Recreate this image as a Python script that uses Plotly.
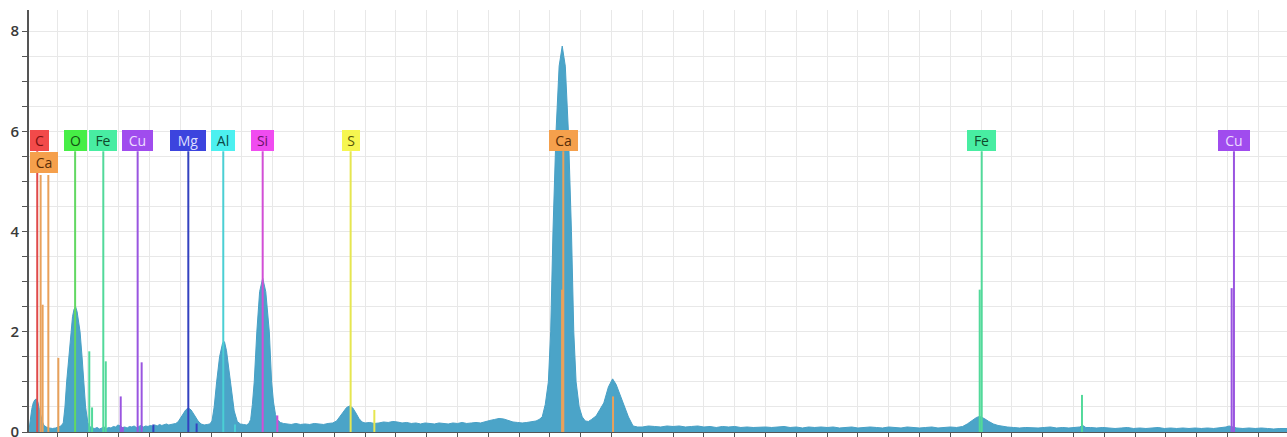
import plotly.graph_objects as go

# ---------------- spectrum data (energy keV, counts) ----------------
kev_a = [0.218,0.225,0.235,0.245,0.255,0.265,0.275,0.285,0.295,0.305,
         0.315,0.330,0.350,0.370,0.390,0.410,0.425,0.440,0.451,0.462,
         0.475,0.488,0.500,0.510,0.520,0.530,0.540,0.549,0.562,0.575,
         0.585,0.600,0.615,0.630,0.645,0.660,0.675,0.690,0.705,0.720]
cps_a = [0.05,0.25,0.45,0.58,0.64,0.66,0.60,0.45,0.30,0.20,
         0.13,0.10,0.08,0.07,0.08,0.10,0.12,0.18,0.50,1.00,
         1.50,2.00,2.30,2.45,2.50,2.40,2.20,2.00,1.50,1.00,
         0.50,0.18,0.10,0.08,0.07,0.09,0.06,0.08,0.10,0.07]

kev_b = [0.735,0.750,0.765,0.780,0.795,0.810,0.825,0.840,0.855,0.870,
         0.885,0.900,0.915,0.930,0.945,0.960,0.975,0.990,1.005,1.020,
         1.035,1.050,1.065,1.080,1.095,1.110,1.125,1.140,1.155,1.170]
cps_b = [0.09,0.08,0.11,0.10,0.14,0.12,0.09,0.10,0.08,0.11,
         0.10,0.12,0.09,0.11,0.13,0.10,0.12,0.11,0.13,0.12,
         0.14,0.12,0.15,0.13,0.14,0.16,0.14,0.15,0.16,0.17]

kev_c = [1.185,1.210,1.235,1.252,1.270,1.295,1.315,1.335,1.355,1.375,
         1.392,1.406,1.420,1.436,1.455,1.475,1.487,1.500,1.517,1.534,
         1.550,1.570,1.590,1.610,1.630,1.645,1.657,1.668,1.680,1.697,
         1.715,1.735,1.755,1.778,1.793,1.805,1.818,1.832,1.850,1.870]
cps_c = [0.20,0.32,0.44,0.48,0.44,0.32,0.22,0.16,0.14,0.15,
         0.16,0.22,0.50,1.00,1.50,1.78,1.80,1.62,1.22,0.78,
         0.42,0.21,0.16,0.15,0.14,0.17,0.25,0.55,1.00,2.00,
         2.80,3.07,2.80,2.00,1.00,0.60,0.35,0.24,0.19,0.17]

kev_d = [1.890,1.920,1.950,1.980,2.010,2.040,2.070,2.100,2.130,2.160,
         2.190,2.215,2.240,2.260,2.280,2.300,2.320,2.340,2.360,2.380,
         2.400,2.430,2.460,2.490,2.520,2.550,2.580,2.610,2.640,2.670,
         2.700,2.730,2.760,2.790,2.820,2.850,2.880,2.910,2.940,2.970,
         3.000,3.030,3.060,3.090,3.120,3.150,3.180,3.210,3.240,3.270,
         3.300,3.330,3.360,3.390,3.420,3.450,3.480,3.510,3.530,3.550]
cps_d = [0.16,0.15,0.17,0.15,0.16,0.15,0.17,0.16,0.15,0.17,
         0.18,0.22,0.32,0.42,0.49,0.52,0.48,0.38,0.27,0.20,
         0.18,0.19,0.17,0.18,0.20,0.19,0.21,0.20,0.18,0.19,
         0.17,0.18,0.16,0.18,0.17,0.16,0.18,0.17,0.16,0.18,
         0.17,0.19,0.17,0.18,0.19,0.18,0.21,0.23,0.25,0.27,
         0.26,0.23,0.20,0.19,0.18,0.19,0.20,0.22,0.25,0.30]

kev_e = [3.570,3.590,3.605,3.620,3.640,3.660,3.680,3.700,3.720,3.740,
         3.755,3.770,3.790,3.810,3.830,3.850,3.870,3.900,3.925,3.950,
         3.980,4.007,4.030,4.060,4.088,4.110,4.140,4.170]
cps_e = [0.55,1.00,2.00,4.00,6.00,7.30,7.70,7.30,6.00,4.00,
         2.00,1.00,0.50,0.30,0.22,0.21,0.25,0.32,0.45,0.58,
         0.90,1.06,0.95,0.70,0.50,0.30,0.12,0.10]

kev_f = [4.20,4.24,4.28,4.32,4.36,4.40,4.44,4.48,4.52,4.56,
         4.60,4.64,4.68,4.72,4.76,4.80,4.84,4.88,4.92,4.96,
         5.00,5.04,5.08,5.12,5.16,5.20,5.24,5.28,5.32,5.36,
         5.40,5.44,5.48,5.52,5.56,5.60,5.64,5.68,5.72,5.76,
         5.80,5.84,5.88,5.92,5.96,6.00,6.04,6.08,6.12,6.16,
         6.20,6.24]
cps_f = [0.10,0.12,0.11,0.10,0.12,0.11,0.12,0.10,0.11,0.12,
         0.10,0.11,0.09,0.11,0.10,0.11,0.09,0.10,0.09,0.10,
         0.10,0.09,0.10,0.11,0.09,0.10,0.08,0.10,0.09,0.10,
         0.09,0.10,0.08,0.09,0.10,0.08,0.09,0.10,0.09,0.08,
         0.10,0.09,0.08,0.10,0.09,0.08,0.09,0.10,0.08,0.09,
         0.10,0.09]

kev_g = [6.28,6.31,6.34,6.37,6.39,6.42,6.45,6.48,6.51,6.54,
         6.57,6.61,6.65,6.69,6.73,6.77,6.81,6.85,6.89,6.93,
         6.97,7.01,7.04,7.06,7.08,7.11,7.15,7.19,7.23,7.27,
         7.31,7.35,7.39,7.43,7.47,7.51,7.55,7.59,7.63,7.67,
         7.71,7.75,7.79,7.83,7.87,7.91,7.95,7.99,8.01,8.03,
         8.06,8.10,8.14,8.18,8.22,8.26,8.30,8.34,8.39]
cps_g = [0.11,0.16,0.23,0.29,0.31,0.27,0.21,0.16,0.13,0.11,
         0.10,0.09,0.08,0.09,0.08,0.08,0.09,0.10,0.08,0.09,
         0.08,0.09,0.10,0.13,0.09,0.09,0.08,0.09,0.08,0.07,
         0.08,0.09,0.07,0.08,0.07,0.08,0.09,0.07,0.08,0.07,
         0.08,0.07,0.08,0.07,0.08,0.07,0.08,0.10,0.12,0.10,
         0.08,0.07,0.08,0.07,0.08,0.07,0.06,0.07,0.07]

spectrum_kev = kev_a + kev_b + kev_c + kev_d + kev_e + kev_f + kev_g
spectrum_cps = cps_a + cps_b + cps_c + cps_d + cps_e + cps_f + cps_g

# ---------------- element marker lines ----------------
line_elem = ["C", "CaL", "CaL", "CaL", "CaL", "O", "FeL", "FeL", "FeL", "FeL",
             "CuL", "CuL", "CuL", "CuL", "Mg", "Mg", "Mg", "Al", "Al", "Si", "Si",
             "S", "S", "Ca", "Ca", "Ca", "Fe", "Fe", "Fe", "Cu", "Cu"]
line_kev = [0.271, 0.293, 0.306, 0.343, 0.408, 0.517, 0.609, 0.627, 0.700, 0.716,
            0.813, 0.826, 0.923, 0.949, 1.025, 1.252, 1.306, 1.479, 1.555, 1.735, 1.830,
            2.306, 2.460, 3.679, 3.687, 4.010, 6.391, 6.404, 7.055, 8.027, 8.042]
line_top = [5.60, 5.13, 2.54, 5.13, 1.48, 5.60, 1.61, 0.49, 5.60, 1.41,
            0.71, 0.10, 5.60, 1.39, 0.15, 5.60, 0.17, 5.60, 0.15, 5.60, 0.33,
            5.60, 0.44, 2.84, 5.60, 0.71, 2.84, 5.60, 0.74, 2.87, 5.60]

# ---------------- element labels ----------------
label_text = ["C", "Ca", "O", "Fe", "Cu", "Mg", "Al", "Si", "S", "Ca", "Fe", "Cu"]
label_group = ["C", "CaL", "O", "FeL", "CuL", "Mg", "Al", "Si", "S", "Ca", "Fe", "Cu"]
label_kev = [0.271, 0.318, 0.517, 0.700, 0.923, 1.252, 1.479, 1.735, 2.306, 3.687, 6.404, 8.042]
label_row = [0, 1, 0, 0, 0, 0, 0, 0, 0, 0, 0, 0]

# ---------------- styles ----------------
line_color = {"C": "#e04a4a", "CaL": "#e9a15a", "Ca": "#e9a15a", "O": "#62d862",
              "FeL": "#52d99a", "Fe": "#52d99a", "CuL": "#9a55e0", "Cu": "#9a55e0",
              "Mg": "#3342c0", "Al": "#4bcfd4", "Si": "#d24fd6", "S": "#e6e650"}
box_color = {"C": "#f24a4a", "CaL": "#f5a04c", "Ca": "#f5a04c", "O": "#46ee46",
             "FeL": "#48eda2", "Fe": "#48eda2", "CuL": "#a04cee", "Cu": "#a04cee",
             "Mg": "#3c44de", "Al": "#4cf0f0", "Si": "#f04cf0", "S": "#f6f650"}
text_color = {"C": "#7a1010", "CaL": "#5a2e08", "Ca": "#5a2e08", "O": "#145214",
              "FeL": "#104a2c", "Fe": "#104a2c", "CuL": "#ecdcff", "Cu": "#ecdcff",
              "Mg": "#dcdeff", "Al": "#0c4848", "Si": "#6a1468", "S": "#55550a"}
box_w = {"C": 19, "Ca": 28, "O": 23, "Fe": 28, "Cu": 31, "Mg": 36, "Al": 24, "Si": 23, "S": 18}
row_y = [5.81, 5.37]
BOX_H = 21

W, H = 1287, 437
ML, MR, MT, MB = 29, 0, 10, 5
X_MIN, X_MAX = 0.2175, 8.3864
Y_MAX = 8.42
px_per_kev = (W - ML - MR) / (X_MAX - X_MIN)

fig = go.Figure()

fig.add_trace(go.Scatter(
    x=spectrum_kev, y=spectrum_cps, mode="lines", fill="tozeroy",
    line=dict(color="#47a0c6", width=1), fillcolor="#4ba4c8",
    hoverinfo="skip", showlegend=False))

groups = []
for g in line_elem:
    if g not in groups:
        groups.append(g)
for g in groups:
    xs, ys = [], []
    for e, k, t in zip(line_elem, line_kev, line_top):
        if e == g:
            xs += [k, k, None]
            ys += [0, t, None]
    fig.add_trace(go.Scatter(x=xs, y=ys, mode="lines",
                             line=dict(color=line_color[g], width=2),
                             hoverinfo="skip", showlegend=False))

for txt, grp, k, row in zip(label_text, label_group, label_kev, label_row):
    w = box_w[txt] + (1 if grp in ("Ca", "Fe", "Cu") else 0)
    half = (w / 2 + 1) / px_per_kev
    xc = max(k, X_MIN + half)
    fig.add_annotation(
        x=xc, y=row_y[row], xref="x", yref="y", text=txt, showarrow=False,
        xanchor="center", yanchor="middle", width=w, height=BOX_H,
        bgcolor=box_color[grp], borderwidth=0, borderpad=0,
        font=dict(family="Open Sans", size=14, color=text_color[grp]))

grid = "#e8e8e8"
axc = "#555555"
fig.update_layout(
    width=W, height=H, margin=dict(l=ML, r=MR, t=MT, b=MB, autoexpand=False),
    paper_bgcolor="white", plot_bgcolor="white",
    xaxis=dict(range=[X_MIN, X_MAX], tick0=0, dtick=1, ticks="outside", ticklen=7,
               tickcolor=axc, tickwidth=1, showticklabels=False, automargin=False,
               showline=True, linecolor=axc, linewidth=1, zeroline=False,
               showgrid=True, gridcolor=grid, gridwidth=1,
               minor=dict(tick0=0, dtick=0.2, ticks="outside", ticklen=4, tickcolor=axc,
                          showgrid=True, gridcolor=grid, gridwidth=1)),
    yaxis=dict(range=[0, Y_MAX], tick0=0, dtick=2, ticks="outside", ticklen=5,
               tickcolor=axc, tickwidth=1, showline=True, linecolor=axc, linewidth=2,
               zeroline=False, showgrid=True, gridcolor=grid, gridwidth=1,
               ticklabeloverflow="allow", automargin=False,
               tickfont=dict(family="Open Sans", size=15, color="#3a3a3a", weight=600),
               minor=dict(tick0=0, dtick=0.5, ticks="outside", ticklen=5, tickcolor=axc,
                          showgrid=True, gridcolor=grid, gridwidth=1)),
)

fig.write_html(
    "out.html",
    config={"displayModeBar": False},
    post_script="document.body.style.margin='0';document.body.style.padding='0';"
                "document.body.style.overflow='hidden';")
